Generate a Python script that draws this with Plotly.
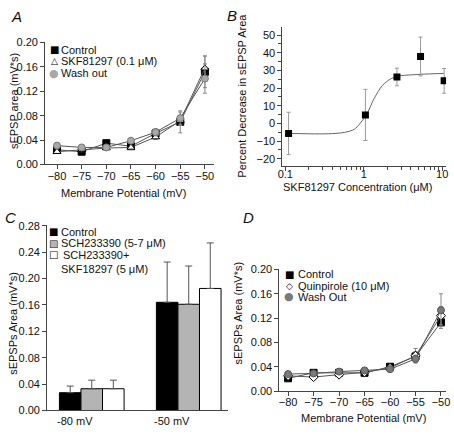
import plotly.graph_objects as go

W, H = 454, 434
FONT = "Liberation Sans, Arial, sans-serif"
GLYPH = "DejaVu Sans, sans-serif"

# ---------------- data ----------------
vm = [-80, -75, -70, -65, -60, -55, -50]

A_control = [0.024, 0.021, 0.035, 0.030, 0.051, 0.070, 0.152]
A_control_err = [0.003, 0.003, 0.003, 0.004, 0.005, 0.018, 0.026]
A_skf = [0.021, 0.024, 0.027, 0.028, 0.045, 0.072, 0.158]
A_skf_err = [0.003, 0.003, 0.003, 0.003, 0.004, 0.008, 0.020]
A_wash = [0.031, 0.028, 0.028, 0.039, 0.053, 0.076, 0.141]
A_wash_err = [0.003, 0.003, 0.003, 0.004, 0.006, 0.010, 0.024]

B_conc = [0.11, 1.05, 2.65, 5.3, 10.6]
B_pct = [-5.7, 4.8, 26.3, 37.9, 24.1]
B_err = [12, 14.5, 5, 11, 7]
B_fit_x = [0.11, 0.355, 0.57, 0.76, 1.07, 1.36, 1.73, 2.2, 2.66, 5.3, 10.5]
B_fit_y = [-5.7, -5.9, -5.1, -3.3, 4.6, 14.2, 21.5, 25.2, 26.7, 27.8, 28.3]

C_groups = ["-80 mV", "-50 mV"]
C_control = [0.027, 0.164]
C_control_err = [0.010, 0.061]
C_sch = [0.033, 0.161]
C_sch_err = [0.013, 0.058]
C_schskf = [0.033, 0.185]
C_schskf_err = [0.013, 0.069]

D_control = [0.021, 0.030, 0.030, 0.030, 0.040, 0.057, 0.113]
D_control_err = [0.003, 0.003, 0.003, 0.003, 0.004, 0.008, 0.010]
D_quin = [0.025, 0.023, 0.027, 0.031, 0.038, 0.058, 0.124]
D_quin_err = [0.003, 0.003, 0.003, 0.003, 0.004, 0.012, 0.015]
D_wash = [0.028, 0.029, 0.032, 0.034, 0.036, 0.053, 0.133]
D_wash_err = [0.003, 0.003, 0.003, 0.003, 0.004, 0.006, 0.027]

# ---------------- helpers ----------------
def px(x):
    return x / W

def py(y):
    return 1 - y / H

fig = go.Figure()

def err(vals, color="#888888", plus_only=False):
    d = dict(type="data", array=vals, color=color, thickness=1, width=2, visible=True)
    if plus_only:
        d.update(symmetric=False, arrayminus=[0] * len(vals), width=3.5)
    return d

def line_series(x, y, e, xa, ya, symbol, fill, edge, size=7):
    fig.add_trace(go.Scatter(
        x=x, y=y, xaxis=xa, yaxis=ya, mode="lines+markers",
        line=dict(color="#555555", width=1),
        marker=dict(symbol=symbol, size=size, color=fill, line=dict(color=edge, width=1)),
        error_y=err(e), showlegend=False))

# Panel A
line_series(vm, A_control, A_control_err, "x", "y", "square", "#000000", "#000000")
line_series(vm, A_skf, A_skf_err, "x", "y", "triangle-up", "#ffffff", "#000000")
line_series(vm, A_wash, A_wash_err, "x", "y", "circle", "#a8a8a8", "#777777")

# Panel B
fig.add_trace(go.Scatter(x=B_fit_x, y=B_fit_y, xaxis="x2", yaxis="y2", mode="lines",
                         line=dict(color="#666666", width=1, shape="spline", smoothing=0.8),
                         showlegend=False))
fig.add_trace(go.Scatter(x=B_conc, y=B_pct, xaxis="x2", yaxis="y2", mode="markers",
                         marker=dict(symbol="square", size=7, color="#000000"),
                         error_y=err(B_err, color="#999999"), showlegend=False))

# Panel C
for vals, e, fill in [(C_control, C_control_err, "#000000"),
                      (C_sch, C_sch_err, "#b4b4b4"),
                      (C_schskf, C_schskf_err, "#ffffff")]:
    fig.add_trace(go.Bar(x=C_groups, y=vals, xaxis="x3", yaxis="y3",
                         marker=dict(color=fill, line=dict(color="#000000", width=1)),
                         error_y=err(e, color="#555555", plus_only=True), showlegend=False))

# Panel D
line_series(vm, D_control, D_control_err, "x4", "y4", "square", "#000000", "#000000")
line_series(vm, D_quin, D_quin_err, "x4", "y4", "diamond", "#ffffff", "#000000")
line_series(vm, D_wash, D_wash_err, "x4", "y4", "circle", "#7a7a7a", "#555555")

axis_common = dict(showline=True, linecolor="#444444", linewidth=1, ticks="outside",
                   ticklen=4, tickcolor="#444444", showgrid=False, zeroline=False,
                   tickfont=dict(family=FONT, size=11, color="#111111"))

fig.update_layout(
    width=W, height=H, margin=dict(l=0, r=0, t=0, b=0),
    paper_bgcolor="white", plot_bgcolor="white",
    barmode="group", bargap=0.333, bargroupgap=0,
    font=dict(family=FONT, size=11, color="#111111"),
    xaxis=dict(domain=[px(41), px(213)], range=[-82.4, -48.2], anchor="y",
               tickvals=vm, ticklabelstandoff=-3, **axis_common),
    yaxis=dict(domain=[py(163), py(37)], range=[0, 0.201], anchor="x",
               dtick=0.04, tick0=0, tickformat=".2f", **axis_common),
    xaxis2=dict(domain=[px(283), px(450)], type="log", range=[-1.0375, 1.05], anchor="y2",
                tickvals=[0.1, 1, 10], ticktext=["0.1", "1", "10"], ticklabelstandoff=-7,
                minor=dict(tickvals=[0.2, 0.3, 0.4, 0.5, 0.6, 0.7, 0.8, 0.9,
                                     2, 3, 4, 5, 6, 7, 8, 9],
                           ticks="outside", ticklen=3, tickcolor="#444444"),
                **axis_common),
    yaxis2=dict(domain=[py(165), py(22)], range=[-24.4, 54.4], anchor="x2",
                dtick=10, tick0=0,
                minor=dict(dtick=5, tick0=0, ticks="outside", ticklen=3, tickcolor="#444444"),
                **axis_common),
    xaxis3=dict(domain=[px(43), px(227)], type="category", range=[-0.46, 1.40], anchor="y3",
                showline=True, linecolor="#444444", linewidth=1, ticks="", showgrid=False,
                ticklabelshift=-17,
                tickfont=dict(family=FONT, size=11, color="#111111")),
    yaxis3=dict(domain=[py(416), py(225)], range=[0, 0.2815], anchor="x3",
                dtick=0.04, tick0=0, tickformat=".2f", **axis_common),
    xaxis4=dict(domain=[px(280), px(450)], range=[-81.7, -49.0], anchor="y4",
                tickvals=vm, ticklabelstandoff=-3, **axis_common),
    yaxis4=dict(domain=[py(396), py(270)], range=[0, 0.2016], anchor="x4",
                dtick=0.04, tick0=0, tickformat=".2f", **axis_common),
)

def txt(x, y, s, size=11, xanchor="center", angle=0, family=FONT, color="#111111", italic=False):
    fig.add_annotation(x=px(x), y=py(y), xref="paper", yref="paper", text=s,
                       showarrow=False, xanchor=xanchor, yanchor="middle", textangle=angle,
                       font=dict(family=family, size=size, color=color,
                                 style="italic" if italic else "normal"),
                       borderpad=0)

# Panel letters
txt(12, 11, "A", size=15, italic=True)
txt(232, 10, "B", size=15, italic=True)
txt(6, 217, "C", size=15, italic=True)
txt(248, 217, "D", size=15, italic=True)

# Axis titles
txt(121, 192, "Membrane Potential (mV)")
txt(9, 98, "sEPSP area (mV*s)", angle=-90)
txt(360, 186, "SKF81297 Concentration (μM)")
txt(242, 92, "Percent Decrease in sEPSP Area", angle=-90)
txt(8, 326, "sEPSPs Area (mV*s)", angle=-90)
txt(366, 424, "Membrane Potential (mV)")
txt(238, 316, "sEPSPs Area (mV*s)", angle=-90)

# Legend A
txt(50, 45, "■", size=10, family=GLYPH, color="#000000")
txt(50, 57, "△", size=9, family=GLYPH, color="#000000")
txt(50, 69, "●", size=11, family=GLYPH, color="#a8a8a8")
txt(56, 45, "Control", xanchor="left")
txt(56, 57, "SKF81297 (0.1 μM)", xanchor="left")
txt(56, 69, "Wash out", xanchor="left")

# Legend C
txt(49, 232, "■", size=10, family=GLYPH, color="#000000")
txt(49, 244, "■", size=10, family=GLYPH, color="#b4b4b4")
txt(49, 244, "□", size=10, family=GLYPH, color="#333333")
txt(49, 256, "□", size=10, family=GLYPH, color="#000000")
txt(56, 232, "Control", xanchor="left")
txt(56, 244, "SCH233390 (5-7 μM)", xanchor="left")
txt(58, 256, "SCH233390+", xanchor="left")
txt(56, 270, "SKF18297 (5 μM)", xanchor="left")

# Legend D
txt(290, 276, "■", size=10, family=GLYPH, color="#000000")
txt(290, 288, "◇", size=9, family=GLYPH, color="#000000")
txt(290, 299, "●", size=11, family=GLYPH, color="#7a7a7a")
txt(298, 276, "Control", xanchor="left")
txt(298, 288, "Quinpirole (10 μM)", xanchor="left")
txt(298, 299, "Wash Out", xanchor="left")

fig.write_html("out.html", config={"displayModeBar": False},
               post_script="document.body.style.margin='0';document.body.style.padding='0';")
